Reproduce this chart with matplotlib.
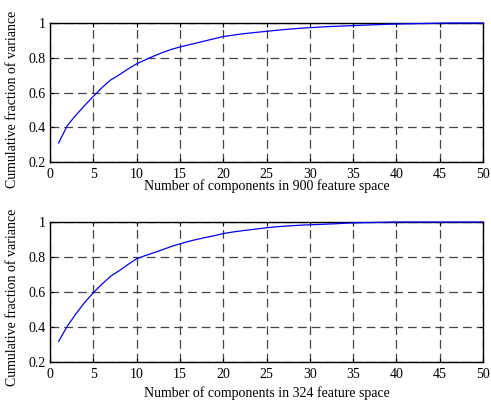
import matplotlib
matplotlib.use("Agg")
import matplotlib.pyplot as plt

# number of components
components = list(range(1, 51))

# cumulative fraction of variance, 900 feature space
var_900 = [0.31, 0.41, 0.47, 0.525, 0.578, 0.628, 0.672, 0.702, 0.735, 0.765,
           0.788, 0.81, 0.83, 0.848, 0.862, 0.874, 0.886, 0.898, 0.91, 0.922,
           0.929, 0.936, 0.942, 0.947, 0.952, 0.957, 0.962, 0.966, 0.97, 0.973,
           0.976, 0.979, 0.981, 0.983, 0.985, 0.987, 0.989, 0.991, 0.993, 0.994,
           0.995, 0.996, 0.997, 0.998, 0.999, 1.0, 1.0, 1.0, 1.0, 1.0]

# cumulative fraction of variance, 324 feature space
var_324 = [0.318, 0.405, 0.476, 0.54, 0.596, 0.645, 0.69, 0.722, 0.757, 0.79,
           0.808, 0.825, 0.842, 0.86, 0.875, 0.889, 0.901, 0.912, 0.922, 0.934,
           0.942, 0.949, 0.955, 0.961, 0.967, 0.972, 0.976, 0.979, 0.982, 0.984,
           0.986, 0.988, 0.99, 0.993, 0.995, 0.996, 0.997, 0.998, 0.999, 1.0,
           1.0, 1.0, 1.0, 1.0, 1.0, 1.0, 1.0, 1.0, 1.0, 1.0]

XLABELS = ["Number of components in 900 feature space",
           "Number of components in 324 feature space"]

plt.rcParams["font.family"] = ["Liberation Serif", "DejaVu Serif"]
plt.rcParams["font.size"] = 10

fig = plt.figure(figsize=(4.91, 4.03), dpi=100)
ax_top = fig.add_axes([50 / 491, 1 - 162 / 403, 433 / 491, 139 / 403])
ax_bot = fig.add_axes([50 / 491, 1 - 362 / 403, 433 / 491, 140 / 403])

# xlabel padding and ylabel vertical position differ a bit between panels
for ax, ys, xl, lp, ly in zip([ax_top, ax_bot], [var_900, var_324], XLABELS,
                              [-1, 4], [0.45, 0.46]):
    ax.plot(components, ys, color="blue", lw=0.9, zorder=5, clip_on=False)
    ax.set_xlim(0, 50)
    ax.set_ylim(0.2, 1)
    ax.set_xticks(range(0, 51, 5))
    ax.set_yticks([0.2, 0.4, 0.6, 0.8, 1.0])
    ax.set_yticklabels(["0.2", "0.4", "0.6", "0.8", "1"])
    ax.grid(True, linestyle=(0, (7, 4)), color="#444444", lw=0.9)
    ax.tick_params(direction="in", top=True, right=True, length=3)
    ax.tick_params(axis="x", pad=4)
    ax.tick_params(axis="y", pad=3)
    ax.set_xlabel(xl, labelpad=lp)
    ax.set_ylabel("Cumulative fraction of variance")
    ax.yaxis.set_label_coords(-0.072, ly)
    for s in ax.spines.values():
        s.set_linewidth(1.0)

fig.savefig("out.png", dpi=100)
